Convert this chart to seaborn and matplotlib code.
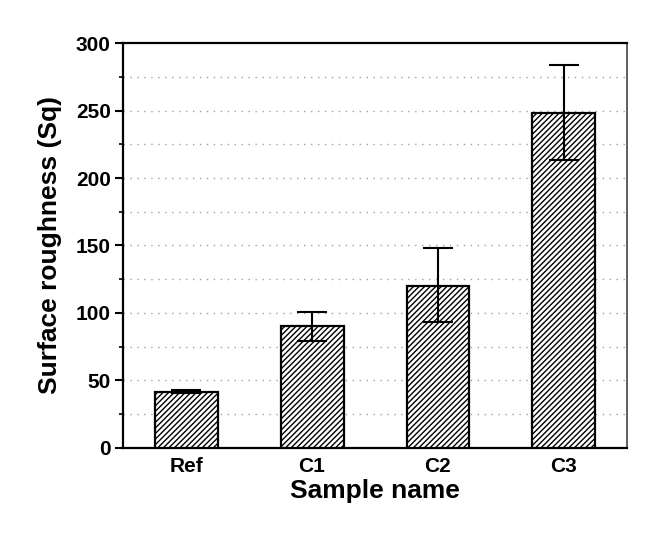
import matplotlib
matplotlib.use("Agg")
import matplotlib.pyplot as plt
import seaborn as sns
import pandas as pd
from matplotlib.ticker import MultipleLocator

# dane
samples = ["Ref", "C1", "C2", "C3"]
roughness = [41.5, 90, 120, 248]
err_low = [1, 11, 27, 35]
err_high = [1, 11, 28, 36]

df = pd.DataFrame({"sample": samples, "sq": roughness})

sns.set_style("white")
plt.rcParams["font.family"] = ["Liberation Sans", "DejaVu Sans"]
plt.rcParams["hatch.linewidth"] = 1.0
plt.rcParams["text.color"] = "black"
plt.rcParams["axes.labelcolor"] = "black"
plt.rcParams["xtick.color"] = "black"
plt.rcParams["ytick.color"] = "black"

fig = plt.figure(figsize=(6.62, 5.33), dpi=100)
ax = fig.add_axes([0.186, 0.160, 0.761, 0.759])

sns.barplot(data=df, x="sample", y="sq", color="white", edgecolor="black",
            linewidth=1.6, width=0.5, ax=ax, zorder=3)
for bar in ax.patches:
    bar.set_hatch("//////")

ax.errorbar(range(len(samples)), roughness, yerr=[err_low, err_high],
            fmt="none", ecolor="black", elinewidth=1.5, capsize=11,
            capthick=1.5, zorder=4)

ax.set_xlim(-0.5, 3.5)
ax.set_ylim(0, 300)
ax.yaxis.set_major_locator(MultipleLocator(50))
ax.yaxis.set_minor_locator(MultipleLocator(25))

# siatka kropkowana co 25
for v in range(25, 300, 25):
    ax.axhline(v, color="#a0a0a0", linestyle=(0, (1, 4)), linewidth=1.0, zorder=1)

ax.tick_params(axis="y", which="major", direction="out", length=6, width=1.5,
               left=True, labelsize=15, pad=3)
ax.tick_params(axis="y", which="minor", direction="out", length=3, width=1.2, left=True)
ax.tick_params(axis="x", length=0, labelsize=15, pad=7)
for lab in ax.get_xticklabels() + ax.get_yticklabels():
    lab.set_fontweight("bold")

for side in ["left", "bottom", "top"]:
    ax.spines[side].set_color("black")
    ax.spines[side].set_linewidth(1.6)
ax.spines["right"].set_color("#444444")
ax.spines["right"].set_linewidth(1.2)

ax.set_xlabel("Sample name", fontsize=19, fontweight="bold", labelpad=2)
ax.set_ylabel("Surface roughness (Sq)", fontsize=19, fontweight="bold", labelpad=10)

fig.savefig("out.png", dpi=100)
